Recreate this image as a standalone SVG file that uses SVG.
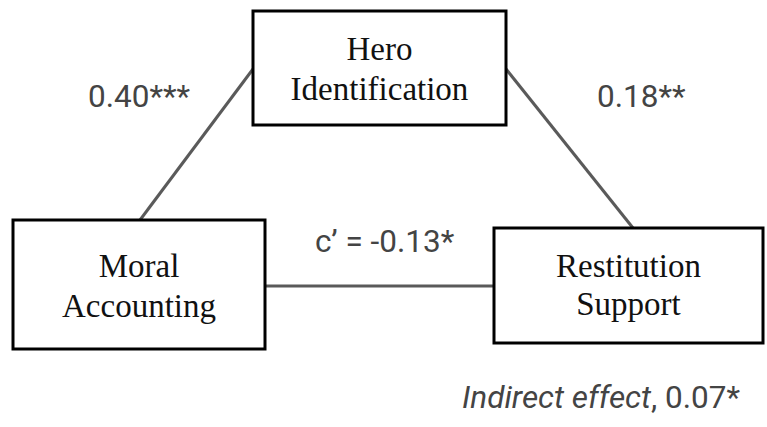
<svg xmlns="http://www.w3.org/2000/svg" width="767" height="427" viewBox="0 0 767 427">
  <style>
    .box { fill: #ffffff; stroke: #000000; stroke-width: 3; }
    .name { font-family: "Liberation Serif", "Times New Roman", serif; font-size: 33px; fill: #111111; text-anchor: middle; }
    .coef { font-family: Roboto, "Liberation Sans", sans-serif; font-size: 31.5px; fill: #444444; }
    .link { stroke: #5a5a5a; stroke-width: 3; fill: none; }
  </style>
  <rect width="767" height="427" fill="#ffffff"/>
  <g id="connectors">
    <line class="link" x1="140" y1="220" x2="253" y2="69"/>
    <line class="link" x1="506" y1="69" x2="633" y2="228"/>
    <line class="link" x1="265" y1="286" x2="494" y2="286"/>
  </g>
  <g id="hero">
    <rect class="box" x="253" y="11" width="253" height="114"/>
    <text class="name" x="379.5" y="60">Hero</text>
    <text class="name" x="379.5" y="100">Identification</text>
  </g>
  <g id="moral">
    <rect class="box" x="13" y="220" width="252" height="129"/>
    <text class="name" x="139" y="277">Moral</text>
    <text class="name" x="139" y="317">Accounting</text>
  </g>
  <g id="restitution">
    <rect class="box" x="494" y="228" width="269" height="115"/>
    <text class="name" x="628.5" y="277">Restitution</text>
    <text class="name" x="628.5" y="315">Support</text>
  </g>
  <g id="labels">
    <text class="coef" x="88" y="107">0.40***</text>
    <text class="coef" x="597" y="107">0.18**</text>
    <text class="coef" x="315" y="252">c’ = -0.13*</text>
    <text class="coef" x="462" y="408"><tspan font-style="italic">Indirect effect</tspan>, 0.07*</text>
  </g>
</svg>
